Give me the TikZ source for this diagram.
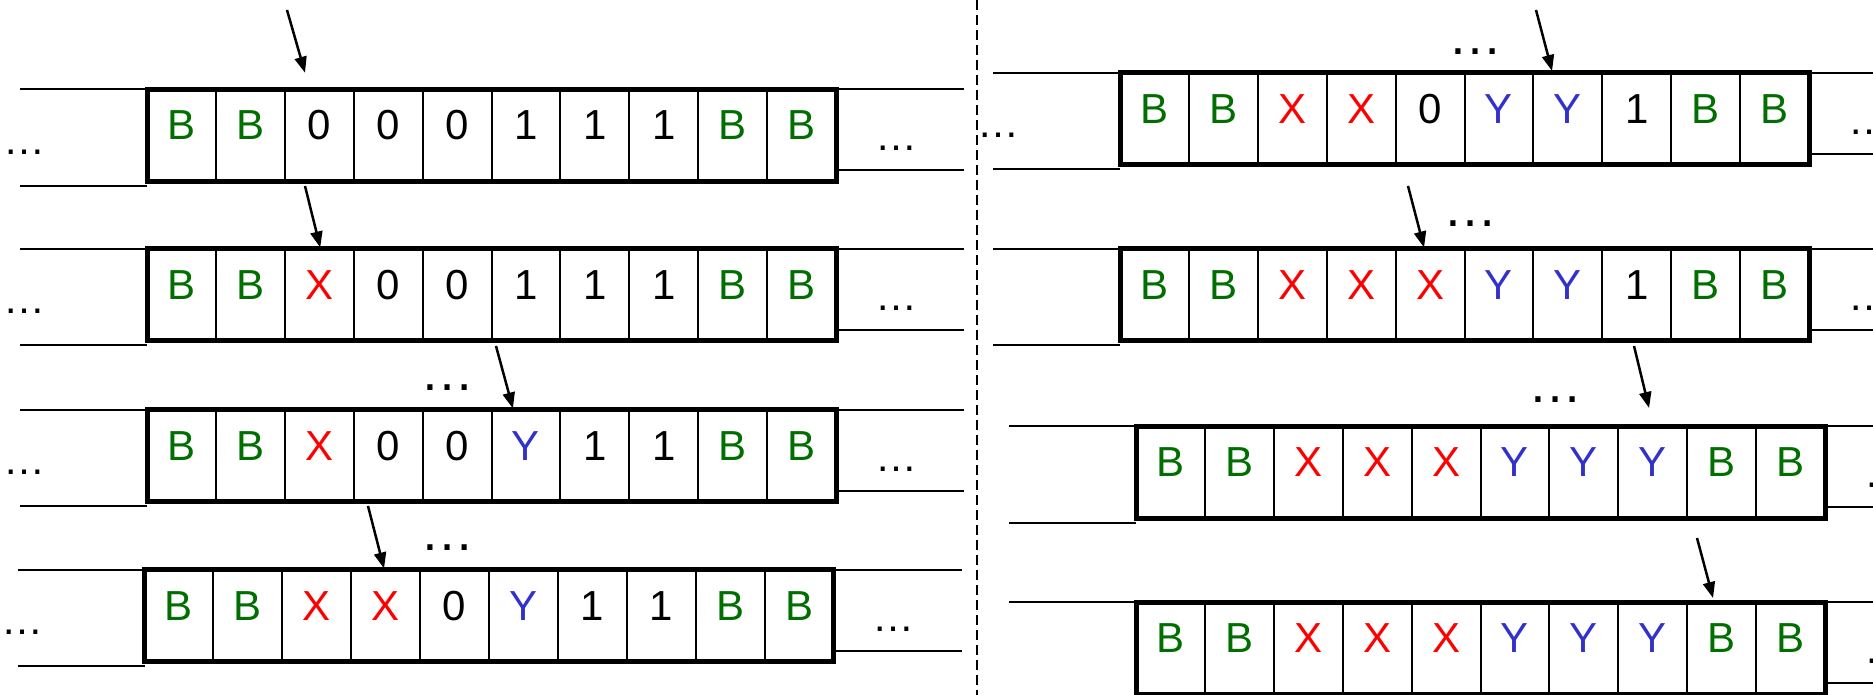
\documentclass[tikz,border=0pt]{standalone}
\usepackage{fontspec}
\setmainfont{Liberation Sans}
\usetikzlibrary{arrows.meta}
\definecolor{bgreen}{RGB}{0,110,0}
\definecolor{xred}{RGB}{255,0,0}
\definecolor{yblue}{RGB}{50,50,200}
\tikzset{
  cell/.style={draw, line width=2pt, minimum width=68.9pt, minimum height=92pt, inner sep=0pt,
    text height=30.1pt, text depth=21.1pt, font=\fontsize{42}{48}\selectfont},
  sB/.style={text=bgreen}, sX/.style={text=xred}, sY/.style={text=yblue}, s0/.style={}, s1/.style={},
  tapebox/.style={line width=5pt},
  rail/.style={line width=2pt},
  sidedots/.style={font=\fontsize{42}{48}\selectfont, inner sep=0pt, anchor=base},
  topdots/.style={font=\fontsize{54}{60}\selectfont, inner sep=0pt, anchor=base},
  head/.style={line width=2.5pt, -{Triangle[length=16pt,width=12pt]}}
}
\begin{document}
\begin{tikzpicture}[x=1pt,y=-1pt]
                \useasboundingbox (0,0) rectangle (1873,695);
                \clip (0,0) rectangle (1873,695);

                % the eight tapes: name / left / top / symbols
                \foreach \t/\X/\Y/\syms in {
                    t1/147/89.5/{B,B,0,0,0,1,1,1,B,B},
                    t2/147/248.5/{B,B,X,0,0,1,1,1,B,B},
                    t3/147/409.5/{B,B,X,0,0,Y,1,1,B,B},
                    t4/144.5/569.5/{B,B,X,X,0,Y,1,1,B,B},
                    r1/1120/73/{B,B,X,X,0,Y,Y,1,B,B},
                    r2/1120/248.5/{B,B,X,X,X,Y,Y,1,B,B},
                    r3/1136/426/{B,B,X,X,X,Y,Y,Y,B,B},
                    r4/1136/602/{B,B,X,X,X,Y,Y,Y,B,B}}{
                    \draw[rail] (\X-127,\Y) -- (\X,\Y);
                    \draw[rail] (\X-127,\Y+96.5) -- (\X,\Y+96.5);
                    \draw[rail] (\X+689,\Y) -- (\X+817,\Y);
                    \draw[rail] (\X+689,\Y+81) -- (\X+817,\Y+81);
                    \foreach \s [count=\i from 0] in \syms
                        \node[cell, s\s] (\t c\i) at (\X+34.45+68.9*\i,\Y+46) {\s};
                    \draw[tapebox] (\X,\Y) rectangle (\X+689,\Y+92);
                    \node[sidedots] (\t rd) at (\X+749,\Y+61.5) {…};
                }

                % dots on the left
                \node[sidedots] (t1ld) at (25,154.5) {…};
                \node[sidedots] (t2ld) at (25,313.5) {…};
                \node[sidedots] (t3ld) at (25,474.5) {…};
                \node[sidedots] (t4ld) at (22.5,634.5) {…};
                \node[sidedots] (r1ld) at (998,138) {…};

                % dots above the tapes
                \node[topdots] (t3td) at (447,390.5) {…};
                \node[topdots] (t4td) at (447,550.5) {…};
                \node[topdots] (r1td) at (1475,54.5) {…};
                \node[topdots] (r2td) at (1470,226.5) {…};
                \node[topdots] (r3td) at (1555,402.5) {…};

                \draw[line width=2pt, dash pattern=on 10pt off 5pt] (977,0) -- (977,695);

                % heads
                \coordinate (h1) at (287,10);
                \coordinate (h2) at (305,186);
                \coordinate (h3) at (496,346);
                \coordinate (h4) at (368,506);
                \coordinate (h5) at (1536,10);
                \coordinate (h6) at (1408,186);
                \coordinate (h7) at (1634,346);
                \coordinate (h8) at (1697,538);
                \draw[head] (h1) -- ([xshift=-14.25pt,yshift=15.75pt]t1c2.north);
                \draw[head] (h2) -- ([xshift=1pt]t2c2.north);
                \draw[head] (h3) -- ([xshift=-13pt]t3c5.north);
                \draw[head] (h4) -- ([xshift=-1.6pt]t4c3.north);
                \draw[head] (h5) -- ([xshift=-15.8pt,yshift=1pt]r1c6.north);
                \draw[head] (h6) -- ([xshift=-6pt]r2c4.north);
                \draw[head] (h7) -- ([xshift=-3.7pt,yshift=17pt]r3c7.north);
                \draw[head] (h8) -- ([xshift=-8.6pt,yshift=3pt]r4c8.north);
            \end{tikzpicture}
\end{document}
